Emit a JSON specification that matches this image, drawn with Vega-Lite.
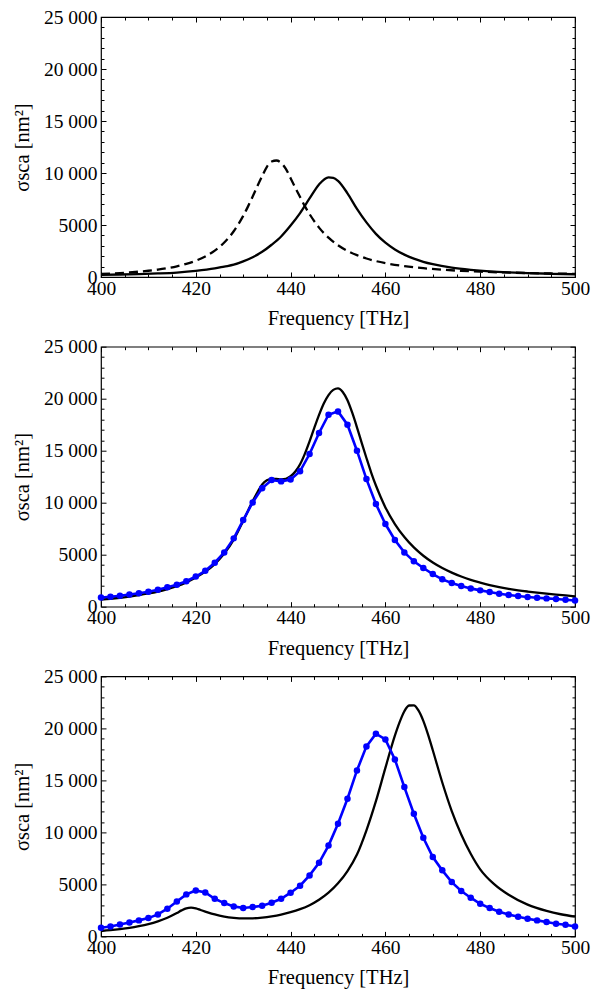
{
  "$schema": "https://vega.github.io/schema/vega-lite/v6.json",
  "background": "white",
  "padding": {"left": 11, "top": 6, "right": 0, "bottom": 0},
  "bounds": "flush",
  "spacing": 69.7,
  "datasets": {
    "p1": [
      {"f":400,"v":290,"s":"d"},{"f":402,"v":331,"s":"d"},{"f":404,"v":381,"s":"d"},{"f":406,"v":440,"s":"d"},{"f":408,"v":512,"s":"d"},{"f":410,"v":601,"s":"d"},{"f":412,"v":712,"s":"d"},{"f":414,"v":851,"s":"d"},{"f":416,"v":1029,"s":"d"},{"f":418,"v":1260,"s":"d"},{"f":420,"v":1566,"s":"d"},{"f":422,"v":1977,"s":"d"},{"f":424,"v":2538,"s":"d"},{"f":426,"v":3316,"s":"d"},{"f":428,"v":4400,"s":"d"},{"f":430,"v":5875,"s":"d"},{"f":431,"v":6767,"s":"d"},{"f":432,"v":7740,"s":"d"},{"f":433,"v":8745,"s":"d"},{"f":434,"v":9696,"s":"d"},{"f":435,"v":10600,"s":"d"},{"f":436,"v":11100,"s":"d"},{"f":437,"v":11200,"s":"d"},{"f":438,"v":10980,"s":"d"},{"f":439,"v":10400,"s":"d"},{"f":440,"v":9500,"s":"d"},{"f":441,"v":8581,"s":"d"},{"f":442,"v":7700,"s":"d"},{"f":443,"v":6817,"s":"d"},{"f":444,"v":6050,"s":"d"},{"f":446,"v":4750,"s":"d"},{"f":448,"v":3780,"s":"d"},{"f":450,"v":3050,"s":"d"},{"f":452,"v":2510,"s":"d"},{"f":454,"v":2100,"s":"d"},{"f":456,"v":1780,"s":"d"},{"f":458,"v":1530,"s":"d"},{"f":460,"v":1335,"s":"d"},{"f":464,"v":1045,"s":"d"},{"f":468,"v":845,"s":"d"},{"f":472,"v":700,"s":"d"},{"f":476,"v":595,"s":"d"},{"f":480,"v":515,"s":"d"},{"f":485,"v":438,"s":"d"},{"f":490,"v":381,"s":"d"},{"f":495,"v":336,"s":"d"},{"f":500,"v":301,"s":"d"},
      {"f":400,"v":210,"s":"s"},{"f":404,"v":240,"s":"s"},{"f":408,"v":285,"s":"s"},{"f":412,"v":345,"s":"s"},{"f":416,"v":430,"s":"s"},{"f":420,"v":580,"s":"s"},{"f":424,"v":820,"s":"s"},{"f":426,"v":1000,"s":"s"},{"f":428,"v":1180,"s":"s"},{"f":430,"v":1500,"s":"s"},{"f":432,"v":1900,"s":"s"},{"f":434,"v":2420,"s":"s"},{"f":436,"v":3100,"s":"s"},{"f":438,"v":3900,"s":"s"},{"f":440,"v":4950,"s":"s"},{"f":442,"v":6150,"s":"s"},{"f":444,"v":7550,"s":"s"},{"f":446,"v":8900,"s":"s"},{"f":448,"v":9580,"s":"s"},{"f":449,"v":9540,"s":"s"},{"f":450,"v":9250,"s":"s"},{"f":452,"v":8050,"s":"s"},{"f":454,"v":6550,"s":"s"},{"f":456,"v":5250,"s":"s"},{"f":458,"v":4150,"s":"s"},{"f":460,"v":3300,"s":"s"},{"f":462,"v":2650,"s":"s"},{"f":464,"v":2150,"s":"s"},{"f":466,"v":1760,"s":"s"},{"f":468,"v":1460,"s":"s"},{"f":470,"v":1230,"s":"s"},{"f":474,"v":900,"s":"s"},{"f":478,"v":690,"s":"s"},{"f":482,"v":540,"s":"s"},{"f":486,"v":440,"s":"s"},{"f":490,"v":370,"s":"s"},{"f":495,"v":310,"s":"s"},{"f":500,"v":265,"s":"s"}
    ],
    "p2": [
      {"f":400,"v":680,"s":"t"},{"f":402,"v":760,"s":"t"},{"f":404,"v":860,"s":"t"},{"f":406,"v":980,"s":"t"},{"f":408,"v":1110,"s":"t"},{"f":410,"v":1270,"s":"t"},{"f":412,"v":1460,"s":"t"},{"f":414,"v":1700,"s":"t"},{"f":416,"v":1980,"s":"t"},{"f":418,"v":2340,"s":"t"},{"f":420,"v":2800,"s":"t"},{"f":422,"v":3370,"s":"t"},{"f":424,"v":4100,"s":"t"},{"f":426,"v":5100,"s":"t"},{"f":428,"v":6450,"s":"t"},{"f":430,"v":8250,"s":"t"},{"f":432,"v":10150,"s":"t"},{"f":433,"v":11000,"s":"t"},{"f":434,"v":11750,"s":"t"},{"f":435,"v":12150,"s":"t"},{"f":436,"v":12300,"s":"t"},{"f":437,"v":12280,"s":"t"},{"f":438,"v":12250,"s":"t"},{"f":439,"v":12300,"s":"t"},{"f":440,"v":12550,"s":"t"},{"f":441,"v":13000,"s":"t"},{"f":442,"v":13700,"s":"t"},{"f":443,"v":14700,"s":"t"},{"f":444,"v":15900,"s":"t"},{"f":445,"v":17200,"s":"t"},{"f":446,"v":18450,"s":"t"},{"f":447,"v":19550,"s":"t"},{"f":448,"v":20350,"s":"t"},{"f":449,"v":20850,"s":"t"},{"f":450,"v":21000,"s":"t"},{"f":451,"v":20650,"s":"t"},{"f":452,"v":19850,"s":"t"},{"f":453,"v":18650,"s":"t"},{"f":454,"v":17250,"s":"t"},{"f":455,"v":15750,"s":"t"},{"f":456,"v":14300,"s":"t"},{"f":457,"v":12900,"s":"t"},{"f":458,"v":11650,"s":"t"},{"f":459,"v":10550,"s":"t"},{"f":460,"v":9550,"s":"t"},{"f":462,"v":7950,"s":"t"},{"f":464,"v":6700,"s":"t"},{"f":466,"v":5700,"s":"t"},{"f":468,"v":4900,"s":"t"},{"f":470,"v":4250,"s":"t"},{"f":472,"v":3720,"s":"t"},{"f":474,"v":3280,"s":"t"},{"f":476,"v":2900,"s":"t"},{"f":478,"v":2580,"s":"t"},{"f":480,"v":2320,"s":"t"},{"f":482,"v":2080,"s":"t"},{"f":484,"v":1880,"s":"t"},{"f":486,"v":1720,"s":"t"},{"f":488,"v":1580,"s":"t"},{"f":490,"v":1460,"s":"t"},{"f":492,"v":1350,"s":"t"},{"f":494,"v":1250,"s":"t"},{"f":496,"v":1160,"s":"t"},{"f":498,"v":1080,"s":"t"},{"f":500,"v":1000,"s":"t"},
      {"f":400,"v":880,"s":"e"},{"f":402,"v":960,"s":"e"},{"f":404,"v":1060,"s":"e"},{"f":406,"v":1170,"s":"e"},{"f":408,"v":1300,"s":"e"},{"f":410,"v":1440,"s":"e"},{"f":412,"v":1620,"s":"e"},{"f":414,"v":1860,"s":"e"},{"f":416,"v":2120,"s":"e"},{"f":418,"v":2450,"s":"e"},{"f":420,"v":2900,"s":"e"},{"f":422,"v":3450,"s":"e"},{"f":424,"v":4230,"s":"e"},{"f":426,"v":5220,"s":"e"},{"f":428,"v":6570,"s":"e"},{"f":430,"v":8330,"s":"e"},{"f":432,"v":10030,"s":"e"},{"f":434,"v":11400,"s":"e"},{"f":436,"v":12180,"s":"e"},{"f":438,"v":12050,"s":"e"},{"f":440,"v":12230,"s":"e"},{"f":442,"v":13030,"s":"e"},{"f":444,"v":14680,"s":"e"},{"f":446,"v":16700,"s":"e"},{"f":448,"v":18460,"s":"e"},{"f":450,"v":18780,"s":"e"},{"f":452,"v":17500,"s":"e"},{"f":454,"v":15000,"s":"e"},{"f":456,"v":12270,"s":"e"},{"f":458,"v":9870,"s":"e"},{"f":460,"v":7950,"s":"e"},{"f":462,"v":6410,"s":"e"},{"f":464,"v":5220,"s":"e"},{"f":466,"v":4360,"s":"e"},{"f":468,"v":3720,"s":"e"},{"f":470,"v":3140,"s":"e"},{"f":472,"v":2630,"s":"e"},{"f":474,"v":2280,"s":"e"},{"f":476,"v":1990,"s":"e"},{"f":478,"v":1760,"s":"e"},{"f":480,"v":1570,"s":"e"},{"f":482,"v":1410,"s":"e"},{"f":484,"v":1250,"s":"e"},{"f":486,"v":1120,"s":"e"},{"f":488,"v":1030,"s":"e"},{"f":490,"v":930,"s":"e"},{"f":492,"v":865,"s":"e"},{"f":494,"v":800,"s":"e"},{"f":496,"v":740,"s":"e"},{"f":498,"v":670,"s":"e"},{"f":500,"v":600,"s":"e"}
    ],
    "p3": [
      {"f":400,"v":520,"s":"t"},{"f":402,"v":600,"s":"t"},{"f":404,"v":700,"s":"t"},{"f":406,"v":820,"s":"t"},{"f":408,"v":980,"s":"t"},{"f":410,"v":1180,"s":"t"},{"f":412,"v":1450,"s":"t"},{"f":414,"v":1800,"s":"t"},{"f":416,"v":2250,"s":"t"},{"f":417,"v":2500,"s":"t"},{"f":418,"v":2700,"s":"t"},{"f":419,"v":2760,"s":"t"},{"f":420,"v":2690,"s":"t"},{"f":421,"v":2540,"s":"t"},{"f":422,"v":2390,"s":"t"},{"f":424,"v":2110,"s":"t"},{"f":426,"v":1910,"s":"t"},{"f":428,"v":1790,"s":"t"},{"f":430,"v":1730,"s":"t"},{"f":432,"v":1740,"s":"t"},{"f":434,"v":1810,"s":"t"},{"f":436,"v":1930,"s":"t"},{"f":438,"v":2100,"s":"t"},{"f":440,"v":2330,"s":"t"},{"f":442,"v":2620,"s":"t"},{"f":444,"v":3000,"s":"t"},{"f":446,"v":3520,"s":"t"},{"f":448,"v":4200,"s":"t"},{"f":450,"v":5100,"s":"t"},{"f":452,"v":6280,"s":"t"},{"f":454,"v":7870,"s":"t"},{"f":456,"v":10200,"s":"t"},{"f":458,"v":13000,"s":"t"},{"f":460,"v":16200,"s":"t"},{"f":462,"v":19300,"s":"t"},{"f":463,"v":20600,"s":"t"},{"f":464,"v":21650,"s":"t"},{"f":465,"v":22200,"s":"t"},{"f":466,"v":22220,"s":"t"},{"f":467,"v":21700,"s":"t"},{"f":468,"v":20720,"s":"t"},{"f":469,"v":19400,"s":"t"},{"f":470,"v":17900,"s":"t"},{"f":472,"v":14800,"s":"t"},{"f":474,"v":12050,"s":"t"},{"f":476,"v":9800,"s":"t"},{"f":478,"v":7950,"s":"t"},{"f":480,"v":6450,"s":"t"},{"f":483,"v":5000,"s":"t"},{"f":486,"v":4000,"s":"t"},{"f":490,"v":3050,"s":"t"},{"f":494,"v":2450,"s":"t"},{"f":497,"v":2130,"s":"t"},{"f":500,"v":1900,"s":"t"},
      {"f":400,"v":835,"s":"e"},{"f":402,"v":960,"s":"e"},{"f":404,"v":1150,"s":"e"},{"f":406,"v":1345,"s":"e"},{"f":408,"v":1540,"s":"e"},{"f":410,"v":1760,"s":"e"},{"f":412,"v":2115,"s":"e"},{"f":414,"v":2660,"s":"e"},{"f":416,"v":3365,"s":"e"},{"f":418,"v":4040,"s":"e"},{"f":420,"v":4420,"s":"e"},{"f":422,"v":4230,"s":"e"},{"f":424,"v":3620,"s":"e"},{"f":426,"v":3205,"s":"e"},{"f":428,"v":2885,"s":"e"},{"f":430,"v":2725,"s":"e"},{"f":432,"v":2820,"s":"e"},{"f":434,"v":2950,"s":"e"},{"f":436,"v":3240,"s":"e"},{"f":438,"v":3620,"s":"e"},{"f":440,"v":4200,"s":"e"},{"f":442,"v":4870,"s":"e"},{"f":444,"v":5865,"s":"e"},{"f":446,"v":7080,"s":"e"},{"f":448,"v":8735,"s":"e"},{"f":450,"v":10830,"s":"e"},{"f":452,"v":13240,"s":"e"},{"f":454,"v":15960,"s":"e"},{"f":456,"v":18270,"s":"e"},{"f":458,"v":19490,"s":"e"},{"f":460,"v":18940,"s":"e"},{"f":462,"v":17020,"s":"e"},{"f":464,"v":14360,"s":"e"},{"f":466,"v":11800,"s":"e"},{"f":468,"v":9490,"s":"e"},{"f":470,"v":7630,"s":"e"},{"f":472,"v":6350,"s":"e"},{"f":474,"v":5220,"s":"e"},{"f":476,"v":4360,"s":"e"},{"f":478,"v":3720,"s":"e"},{"f":480,"v":3140,"s":"e"},{"f":482,"v":2725,"s":"e"},{"f":484,"v":2370,"s":"e"},{"f":486,"v":2115,"s":"e"},{"f":488,"v":1890,"s":"e"},{"f":490,"v":1700,"s":"e"},{"f":492,"v":1540,"s":"e"},{"f":494,"v":1380,"s":"e"},{"f":496,"v":1220,"s":"e"},{"f":498,"v":1120,"s":"e"},{"f":500,"v":960,"s":"e"}
    ]
  },
  "vconcat": [
    {
      "width": 474, "height": 260,
      "data": {"name": "p1"},
      "encoding": {
        "x": {"field": "f", "type": "quantitative", "scale": {"domain": [400, 500], "nice": false, "zero": false},
          "axis": {"title": "Frequency [THz]", "values": [400,405,410,415,420,425,430,435,440,445,450,455,460,465,470,475,480,485,490,495,500], "labelExpr": "datum.value % 20 === 0 ? datum.label : ''", "gridDash": {"condition": {"test": "datum.value % 20 === 0", "value": [5, 250]}, "value": [3, 254]}, "labelPadding": 2, "titlePadding": 11}},
        "y": {"field": "v", "type": "quantitative", "scale": {"domain": [0, 25000], "nice": false},
          "axis": {"title": "σsca [nm²]", "values": [0,1000,2000,3000,4000,5000,6000,7000,8000,9000,10000,11000,12000,13000,14000,15000,16000,17000,18000,19000,20000,21000,22000,23000,24000,25000], "labelExpr": "datum.value % 5000 === 0 ? (datum.value >= 10000 ? floor(datum.value / 1000) + ' 000' : '' + datum.value) : ''", "gridDash": {"condition": {"test": "datum.value % 5000 === 0", "value": [5, 464]}, "value": [3, 468]}, "labelPadding": 4, "titlePadding": 11}}
      },
      "layer": [
        {"transform": [{"filter": "datum.s === 'd'"}], "mark": {"type": "line", "color": "black", "strokeWidth": 2.3, "strokeDash": [9, 5], "interpolate": "monotone"}, "encoding": {}},
        {"transform": [{"filter": "datum.s === 's'"}], "mark": {"type": "line", "color": "black", "strokeWidth": 2.3, "interpolate": "monotone"}, "encoding": {}}
      ]
    },
    {
      "width": 474, "height": 260,
      "data": {"name": "p2"},
      "encoding": {
        "x": {"field": "f", "type": "quantitative", "scale": {"domain": [400, 500], "nice": false, "zero": false},
          "axis": {"title": "Frequency [THz]", "values": [400,405,410,415,420,425,430,435,440,445,450,455,460,465,470,475,480,485,490,495,500], "labelExpr": "datum.value % 20 === 0 ? datum.label : ''", "gridDash": {"condition": {"test": "datum.value % 20 === 0", "value": [5, 250]}, "value": [3, 254]}, "labelPadding": 2, "titlePadding": 11}},
        "y": {"field": "v", "type": "quantitative", "scale": {"domain": [0, 25000], "nice": false},
          "axis": {"title": "σsca [nm²]", "values": [0,1000,2000,3000,4000,5000,6000,7000,8000,9000,10000,11000,12000,13000,14000,15000,16000,17000,18000,19000,20000,21000,22000,23000,24000,25000], "labelExpr": "datum.value % 5000 === 0 ? (datum.value >= 10000 ? floor(datum.value / 1000) + ' 000' : '' + datum.value) : ''", "gridDash": {"condition": {"test": "datum.value % 5000 === 0", "value": [5, 464]}, "value": [3, 468]}, "labelPadding": 4, "titlePadding": 11}}
      },
      "layer": [
        {"transform": [{"filter": "datum.s === 't'"}], "mark": {"type": "line", "color": "black", "strokeWidth": 2.3, "interpolate": "monotone"}, "encoding": {}},
        {"transform": [{"filter": "datum.s === 'e'"}], "mark": {"type": "line", "color": "#0000ff", "strokeWidth": 2.6, "point": {"filled": true, "size": 42, "color": "#0000ff", "opacity": 1}}, "encoding": {}}
      ]
    },
    {
      "width": 474, "height": 260,
      "data": {"name": "p3"},
      "encoding": {
        "x": {"field": "f", "type": "quantitative", "scale": {"domain": [400, 500], "nice": false, "zero": false},
          "axis": {"title": "Frequency [THz]", "values": [400,405,410,415,420,425,430,435,440,445,450,455,460,465,470,475,480,485,490,495,500], "labelExpr": "datum.value % 20 === 0 ? datum.label : ''", "gridDash": {"condition": {"test": "datum.value % 20 === 0", "value": [5, 250]}, "value": [3, 254]}, "labelPadding": 2, "titlePadding": 11}},
        "y": {"field": "v", "type": "quantitative", "scale": {"domain": [0, 25000], "nice": false},
          "axis": {"title": "σsca [nm²]", "values": [0,1000,2000,3000,4000,5000,6000,7000,8000,9000,10000,11000,12000,13000,14000,15000,16000,17000,18000,19000,20000,21000,22000,23000,24000,25000], "labelExpr": "datum.value % 5000 === 0 ? (datum.value >= 10000 ? floor(datum.value / 1000) + ' 000' : '' + datum.value) : ''", "gridDash": {"condition": {"test": "datum.value % 5000 === 0", "value": [5, 464]}, "value": [3, 468]}, "labelPadding": 4, "titlePadding": 11}}
      },
      "layer": [
        {"transform": [{"filter": "datum.s === 't'"}], "mark": {"type": "line", "color": "black", "strokeWidth": 2.3, "interpolate": "monotone"}, "encoding": {}},
        {"transform": [{"filter": "datum.s === 'e'"}], "mark": {"type": "line", "color": "#0000ff", "strokeWidth": 2.6, "point": {"filled": true, "size": 42, "color": "#0000ff", "opacity": 1}}, "encoding": {}}
      ]
    }
  ],
  "config": {
    "view": {"stroke": "black", "strokeWidth": 1.2},
    "font": "'Liberation Serif', 'Times New Roman', 'DejaVu Serif', serif",
    "axis": {
      "labelFont": "'Liberation Serif', 'Times New Roman', 'DejaVu Serif', serif",
      "titleFont": "'Liberation Serif', 'Times New Roman', 'DejaVu Serif', serif",
      "labelFontSize": 19.5, "titleFontSize": 20.5, "titleFontWeight": "normal",
      "labelColor": "black", "titleColor": "black",
      "ticks": false, "domain": false, "grid": true,
      "gridColor": "black", "gridOpacity": 1, "gridWidth": 1,
      "labelFlush": false, "labelOverlap": false
    }
  }
}
